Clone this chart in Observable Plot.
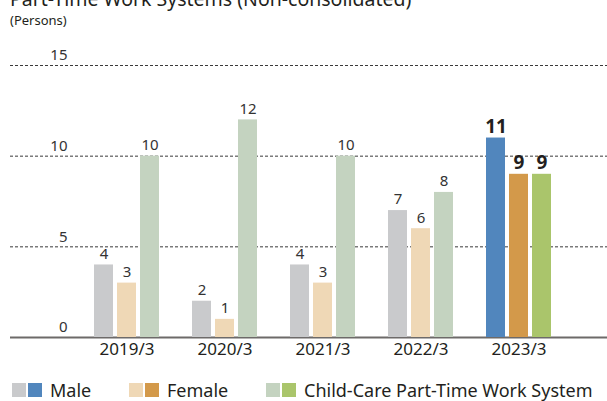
<!DOCTYPE html>
<html>
<head>
<meta charset="utf-8">
<script src="https://cdn.jsdelivr.net/npm/d3@7"></script>
<script src="https://cdn.jsdelivr.net/npm/@observablehq/plot@0.6"></script>
<style>
  body { margin: 0; background: #fff; font-family: "Noto Sans", sans-serif; color: #231f20; }
  #wrap { position: relative; width: 607px; height: 401px; overflow: hidden; background: #fff; }
  .abs { position: absolute; }
  .title { left: 10px; top: -11px; font-size: 19.5px; line-height: 20px; white-space: nowrap; color: #231f20; z-index: 3; }
  .sub { left: 10px; top: 14px; font-size: 13px; line-height: 13px; color: #231f20; z-index: 3; }
  .leg { top: 380px; display: flex; align-items: center; font-size: 18px; line-height: 20px; color: #231f20; white-space: nowrap; z-index: 3; }
  .sw { width: 14px; height: 14px; margin-right: 2px; }
  .leg span.t { margin-left: 6px; }
</style>
</head>
<body>
<div id="wrap">
  <div id="grid" class="abs" style="left:0;top:0"></div>
  <div id="bars" class="abs" style="left:0;top:0"></div>
  <div class="abs title">Part-Time Work Systems (Non-consolidated)</div>
  <div class="abs sub">(Persons)</div>
  <div id="legend"></div>
</div>
<script>
const years = ["2019/3", "2020/3", "2021/3", "2022/3", "2023/3"];
const series = ["Male", "Female", "Child-Care Part-Time Work System"];
const male = [4, 2, 4, 7, 11];
const female = [3, 1, 3, 6, 9];
const childCare = [10, 12, 10, 8, 9];
const yTicks = [0, 5, 10, 15];
const highlightYear = "2023/3";

const pastel = ["#c9cacc", "#efd8b6", "#c4d3c0"];
const strong = ["#5186bd", "#d3994a", "#aac56b"];

const values = [male, female, childCare];
const data = [];
years.forEach((yr, i) => {
  series.forEach((s, j) => {
    data.push({year: yr, series: s, value: values[j][i], fill: yr === highlightYear ? strong[j] : pastel[j]});
  });
});

const W = 607, H = 375, MT = 65, MB = 38;

const grid = Plot.plot({
  width: W, height: H,
  marginTop: MT, marginBottom: MB, marginLeft: 10, marginRight: 0,
  y: {domain: [0, 15], axis: null},
  style: {fontFamily: "Noto Sans", background: "transparent"},
  marks: [
    Plot.ruleY(yTicks.filter(d => d > 0), {stroke: "#3a3a3a", strokeWidth: 1, strokeDasharray: "3,2"}),
    Plot.ruleY([0], {stroke: "#6d6a69", strokeWidth: 2}),
    Plot.text(yTicks, {y: d => d, text: d => String(d), frameAnchor: "left", textAnchor: "end", dx: 57, dy: -10, fontSize: 15, fill: "#333"})
  ]
});
document.getElementById("grid").appendChild(grid);

const bars = Plot.plot({
  width: W, height: H,
  marginTop: MT, marginBottom: MB, marginLeft: 93, marginRight: 55,
  fx: {domain: years, paddingInner: 0.34, paddingOuter: 0, axis: null, label: null},
  x: {domain: series, paddingInner: 4 / 23, paddingOuter: 0, axis: null},
  y: {domain: [0, 15], axis: null},
  color: {type: "identity"},
  style: {fontFamily: "Noto Sans", background: "transparent"},
  marks: [
    Plot.barY(data, {fx: "year", x: "series", y: "value", fill: "fill"}),
    Plot.text(data.filter(d => d.year !== highlightYear), {fx: "year", x: "series", y: "value", text: d => String(d.value), dy: -11, fontSize: 15, fill: "#333"}),
    Plot.text(data.filter(d => d.year === highlightYear), {fx: "year", x: "series", y: "value", text: d => String(d.value), dy: -11, fontSize: 19, fontWeight: 700, fill: "#231f20"}),
    Plot.text(years, {fx: d => d, text: d => d, frameAnchor: "bottom", dy: 17, fontSize: 17, fill: "#231f20", fontWeight: d => d === highlightYear ? 700 : 400})
  ]
});
document.getElementById("bars").appendChild(bars);

const legendPos = [12, 129, 266];
const legend = document.getElementById("legend");
series.forEach((s, j) => {
  const item = document.createElement("div");
  item.className = "abs leg";
  item.style.left = legendPos[j] + "px";
  item.innerHTML = `<div class="sw" style="background:${pastel[j]}"></div><div class="sw" style="background:${strong[j]}"></div><span class="t">${s}</span>`;
  legend.appendChild(item);
});
</script>
</body>
</html>
